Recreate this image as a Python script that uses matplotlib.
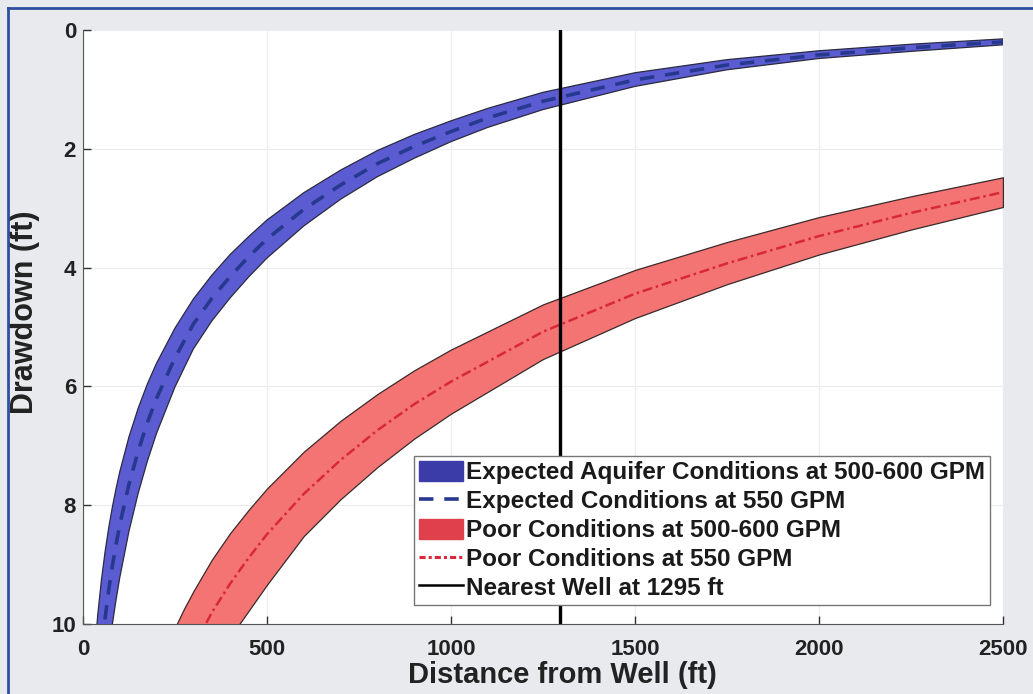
import matplotlib
matplotlib.use("Agg")
import matplotlib.pyplot as plt
from matplotlib.patches import Patch
from matplotlib.lines import Line2D

plt.rcParams['font.family'] = ['Liberation Sans', 'DejaVu Sans']
plt.rcParams['font.weight'] = 'bold'

# distances (ft) where the expected-aquifer curves were read
r_exp = [25, 30, 40, 50, 60, 70, 80, 90, 100, 125, 150, 175, 200, 250, 300, 350, 400,
         450, 500, 600, 700, 800, 900, 1000, 1100, 1250, 1500, 1750, 2000, 2250, 2500]
exp_500 = [11.11, 10.63, 9.86, 9.27, 8.79, 8.38, 8.03, 7.72, 7.44, 6.85, 6.37, 5.96, 5.61,
           5.02, 4.53, 4.13, 3.78, 3.48, 3.20, 2.74, 2.36, 2.03, 1.76, 1.53, 1.32, 1.05,
           0.72, 0.50, 0.35, 0.24, 0.15]
exp_600 = [14.19, 13.53, 12.5, 11.69, 11.03, 10.48, 10.0, 9.59, 9.22, 8.44, 7.80, 7.26, 6.79,
           6.01, 5.37, 4.90, 4.51, 4.16, 3.84, 3.30, 2.85, 2.47, 2.16, 1.88, 1.64, 1.34,
           0.95, 0.67, 0.48, 0.36, 0.25]
exp_550 = [12.65, 12.08, 11.18, 10.48, 9.91, 9.43, 9.02, 8.66, 8.33, 7.65, 7.09, 6.61, 6.20,
           5.52, 4.95, 4.52, 4.15, 3.82, 3.52, 3.02, 2.61, 2.25, 1.96, 1.71, 1.48, 1.20,
           0.84, 0.59, 0.42, 0.30, 0.20]

# distances (ft) where the poor-condition curves were read
r_poor = [200, 225, 250, 275, 300, 350, 400, 450, 500, 600, 700, 800, 900, 1000,
          1250, 1500, 1750, 2000, 2250, 2500]
poor_500 = [10.81, 10.42, 10.06, 9.74, 9.45, 8.92, 8.47, 8.08, 7.72, 7.10, 6.58, 6.13, 5.73,
            5.38, 4.62, 4.04, 3.57, 3.15, 2.80, 2.48]
poor_600 = [12.97, 12.50, 12.07, 11.69, 11.34, 10.76, 10.22, 9.78, 9.34, 8.52, 7.90, 7.36,
            6.88, 6.46, 5.54, 4.85, 4.28, 3.78, 3.36, 2.98]
poor_550 = [11.89, 11.46, 11.07, 10.71, 10.40, 9.81, 9.32, 8.89, 8.49, 7.81, 7.24, 6.74, 6.30,
            5.92, 5.08, 4.44, 3.93, 3.47, 3.08, 2.73]

nearest_well = 1295

labels = ['Expected Aquifer Conditions at 500-600 GPM',
          'Expected Conditions at 550 GPM',
          'Poor Conditions at 500-600 GPM',
          'Poor Conditions at 550 GPM',
          'Nearest Well at 1295 ft']

fig = plt.figure(figsize=(10.33, 6.94), dpi=100, facecolor='#e8eaee')
ax = fig.add_axes([0.0803, 0.1009, 0.8906, 0.8559])

# bands
ax.fill_between(r_exp, exp_500, exp_600, facecolor='#5c5cd2', edgecolor='#2a2a40', linewidth=0.9)
ax.fill_between(r_poor, poor_500, poor_600, facecolor='#f47474', edgecolor='#3a2a2a', linewidth=0.9)

# center lines
ax.plot(r_exp, exp_550, color='#27388f', linestyle=(0, (4, 3)), linewidth=2.6)
ax.plot(r_poor, poor_550, color='#d8283a', linestyle=(0, (4, 1.5, 1, 1.5)), linewidth=1.8)

ax.axvline(nearest_well, color='black', linewidth=2.4)

ax.set_xlim(0, 2500)
ax.set_ylim(10, 0)
ax.set_xticks([0, 500, 1000, 1500, 2000, 2500])
ax.set_yticks([0, 2, 4, 6, 8, 10])
ax.tick_params(direction='in', labelsize=16, length=6, width=1, colors='#333333')
ax.tick_params(axis='x', pad=11)
ax.tick_params(axis='y', pad=5)
for lab in ax.get_xticklabels() + ax.get_yticklabels():
    lab.set_color('#222222')
    lab.set_fontweight('bold')

ax.spines['top'].set_visible(False)
ax.spines['right'].set_visible(False)
ax.spines['left'].set_color('#555555')
ax.spines['bottom'].set_color('#555555')
ax.grid(True, color='#ebebf0', linewidth=0.8)
ax.set_axisbelow(True)

ax.set_xlabel('Distance from Well (ft)', fontsize=21, fontweight='bold', color='#222222')
ax.set_ylabel('Drawdown (ft)', fontsize=22, fontweight='bold', color='#222222')
ax.xaxis.set_label_coords(0.521, -0.062)
ax.yaxis.set_label_coords(-0.047, 0.525)

handles = [Patch(facecolor='#3c3ca8', edgecolor='#3c3ca8'),
           Line2D([], [], color='#27388f', linestyle=(0, (4, 3)), linewidth=2.6),
           Patch(facecolor='#e0404c', edgecolor='#e0404c'),
           Line2D([], [], color='#d8283a', linestyle=(0, (2, 1, 1, 1)), linewidth=2.2),
           Line2D([], [], color='black', linewidth=1.8)]
leg = ax.legend(handles, labels, loc='lower right', bbox_to_anchor=(0.986, 0.032),
                borderaxespad=0, handlelength=1.8, handleheight=0.9, handletextpad=0.12,
                labelspacing=0.22, borderpad=0.22, fancybox=False, framealpha=1,
                edgecolor='#777777', prop={'weight': 'bold', 'size': 17.5})
leg.get_frame().set_linewidth(1.0)
for t in leg.get_texts():
    t.set_color('#1a1a1a')

# scanned page border
fig.add_artist(Line2D([0.008, 0.008], [0.0, 0.988], transform=fig.transFigure,
                      color='#2f4f9f', linewidth=2))
fig.add_artist(Line2D([0.008, 1.0], [0.988, 0.988], transform=fig.transFigure,
                      color='#2f4f9f', linewidth=2))

fig.savefig('out.png', dpi=100, facecolor=fig.get_facecolor())
